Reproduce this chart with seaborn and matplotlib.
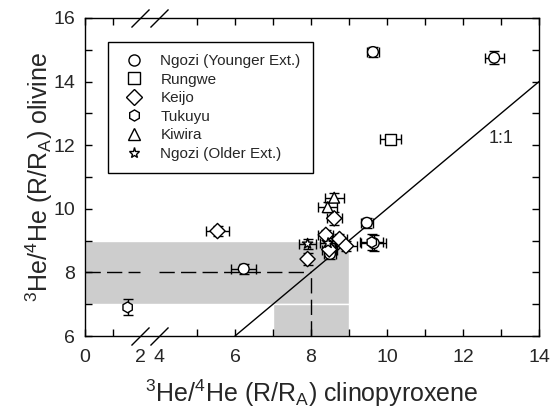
import numpy as np
import pandas as pd
import seaborn as sns
import matplotlib
matplotlib.use('Agg')
import matplotlib.pyplot as plt
import matplotlib.transforms as mtransforms
from matplotlib.lines import Line2D
from matplotlib.patches import Rectangle

# Data: 3He/4He (R/RA) in clinopyroxene vs olivine

sites = ['Ngozi (Younger Ext.)', 'Rungwe', 'Keijo', 'Tukuyu', 'Kiwira', 'Ngozi (Older Ext.)']
site_markers = ['o', 's', 'D', 'h', '^', '*']

site = ['Ngozi (Younger Ext.)'] * 6 + ['Rungwe'] + ['Keijo'] * 7 + ['Tukuyu'] * 2 \
       + ['Kiwira'] * 2 + ['Ngozi (Older Ext.)'] * 2
cpx = [9.63, 12.82, 9.47, 9.65, 6.23, 8.50,
       10.09,
       5.54, 8.61, 8.39, 8.75, 8.92, 8.48, 7.91,
       1.55, 9.60,
       8.61, 8.44,
       7.91, 8.45]
cpx_err = [0.15, 0.25, 0.15, 0.33, 0.33, 0.15,
           0.27,
           0.30, 0.20, 0.20, 0.20, 0.30, 0.20, 0.05,
           0.00, 0.30,
           0.25, 0.25,
           0.22, 0.20]
ol = [14.93, 14.75, 9.56, 8.92, 8.11, 8.58,
      12.18,
      9.30, 9.70, 9.18, 9.05, 8.83, 8.72, 8.42,
      6.90, 8.95,
      10.35, 10.05,
      8.90, 8.92]
ol_err = [0.15, 0.20, 0.15, 0.25, 0.15, 0.15,
          0.12,
          0.15, 0.20, 0.15, 0.15, 0.15, 0.15, 0.20,
          0.25, 0.25,
          0.15, 0.15,
          0.15, 0.15]

df = pd.DataFrame({'cpx': cpx, 'cpx_err': cpx_err, 'ol': ol, 'ol_err': ol_err, 'site': site})

# broken x axis: 0-2 squeezed, 2-4 cut out
def fwd(x):
    x = np.asarray(x, dtype=float)
    return np.where(x <= 2, x * 0.7237, np.where(x < 4, 1.447 + (x - 2) * 0.25, x - 2.053))

def inv(u):
    u = np.asarray(u, dtype=float)
    return np.where(u <= 1.447, u / 0.7237, np.where(u < 1.947, 2 + (u - 1.447) / 0.25, u + 2.053))

sns.set_style('ticks')
plt.rcParams['font.family'] = ['Liberation Sans', 'DejaVu Sans']
plt.rcParams['mathtext.fontset'] = 'custom'
plt.rcParams['mathtext.rm'] = 'Liberation Sans'
plt.rcParams['mathtext.it'] = 'Liberation Sans:italic'

fig = plt.figure(figsize=(5.5, 4.15), dpi=100)
ax = fig.add_axes([85 / 550, 1 - 336 / 415, 454 / 550, 318 / 415])
ax.set_xscale('function', functions=(fwd, inv))
ax.set_xlim(0, 14)
ax.set_ylim(6, 16)

# shaded reference fields
grey = '#cdcdcd'
ax.add_patch(Rectangle((0, 7), 9, 2, facecolor=grey, edgecolor='white', lw=1, zorder=0))
ax.add_patch(Rectangle((7, 6), 2, 1, facecolor=grey, edgecolor='white', lw=1, zorder=0))

# dashed MORB lines and 1:1 line
ax.plot([0, 2], [8, 8], color='k', lw=1, dashes=(11, 4.5), zorder=1)
ax.plot([4, 8], [8, 8], color='k', lw=1, dashes=(11, 4.5), zorder=1)
ax.plot([8, 8], [6, 8], color='k', lw=1, dashes=(11, 4.5), zorder=1)
ax.plot([6, 14], [6, 14], color='k', lw=1, zorder=1)
ax.text(13.0, 12.2, '1:1', fontsize=13, ha='center', va='center')

ax.errorbar(df['cpx'], df['ol'], xerr=df['cpx_err'], yerr=df['ol_err'], fmt='none',
            ecolor='k', elinewidth=1, capsize=3.5, capthick=1, zorder=2)
sns.scatterplot(data=df, x='cpx', y='ol', style='site', style_order=sites,
                markers=dict(zip(sites, site_markers)), color='white', edgecolor='black',
                linewidth=1, s=60, legend=False, ax=ax, zorder=3)

# ticks
ax.set_xticks([0, 2, 4, 6, 8, 10, 12, 14])
ax.set_xticks([1, 5, 7, 9, 11, 13], minor=True)
ax.set_yticks([6, 8, 10, 12, 14, 16])
ax.set_yticks([7, 9, 11, 13, 15], minor=True)
ax.set_xticklabels(['0', '2', '4', '6', '8', '10', '12', '14'])
ax.tick_params(which='both', direction='in', top=True, right=True, length=5, width=1,
               labelsize=14, color='k')
ax.tick_params(axis='x', pad=9)
ax.tick_params(axis='y', pad=7)
for t in ax.xaxis.get_major_ticks()[1:3]:
    t.tick1line.set_visible(False)
    t.tick2line.set_visible(False)
for sp in ax.spines.values():
    sp.set_linewidth(1)
    sp.set_color('k')

# axis break marks
brk = mtransforms.blended_transform_factory(ax.transData, ax.transAxes)
for yy in (0, 1):
    ax.plot([2, 4], [yy, yy], transform=brk, ls='none', marker=[(-1, -1), (1, 1)],
            markersize=13, mew=1, color='k', clip_on=False, zorder=5)

ax.set_xlabel(r'${}^{3}$He/${}^{4}$He (R/R$_{\mathrm{A}}$) clinopyroxene', fontsize=18, labelpad=9)
ax.set_ylabel(r'${}^{3}$He/${}^{4}$He (R/R$_{\mathrm{A}}$) olivine', fontsize=18, labelpad=-1)

handles = [Line2D([], [], ls='none', marker=m, markersize=8, markerfacecolor='white',
                  markeredgecolor='k', markeredgewidth=1) for m in site_markers]
ax.legend(handles, sites, loc='upper left', bbox_to_anchor=(0.05, 0.925), borderaxespad=0,
          fontsize=11, frameon=True, fancybox=False, edgecolor='k', framealpha=1,
          borderpad=0.8, handlelength=1.9, handletextpad=0.75, labelspacing=0.3)
ax.get_legend().get_frame().set_linewidth(1)

fig.savefig('out.png', dpi=100)
